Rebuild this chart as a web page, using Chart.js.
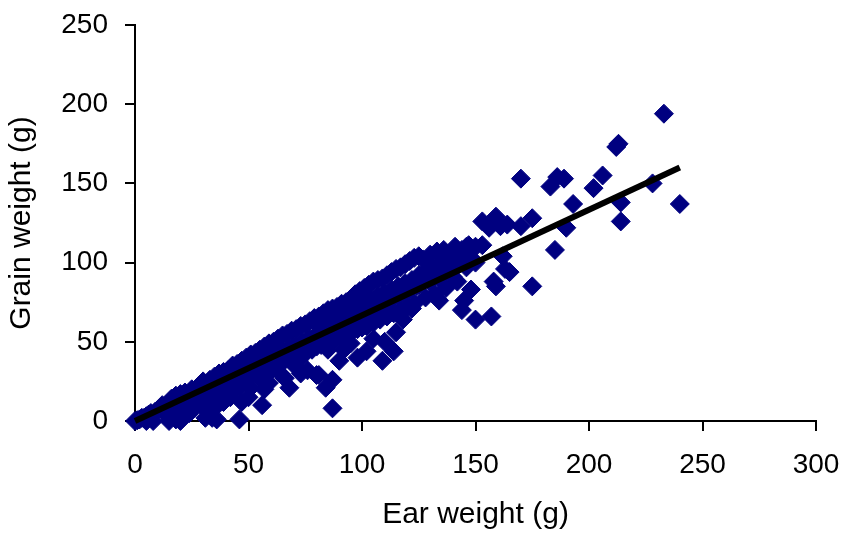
<!DOCTYPE html>
<html>
<head>
<meta charset="utf-8">
<script src="https://cdn.jsdelivr.net/npm/chart.js@4/dist/chart.umd.min.js"></script>
<style>
  body { margin: 0; background: #fff; }
  #wrap { width: 841px; height: 534px; }
</style>
</head>
<body>
<div id="wrap"><canvas id="chart"></canvas></div>
<script>
// Ear weight (x) and grain weight (y), grouped by x range
const earWeight = [
  0, 1, 2, 3, 4, 5, 6, 7, 8, 9, 10, 11, 12, 13, 14, 15, 16, 17, 18, 19, 20,
  5, 8, 15, 18, 20, 14, 17, 19, 21, 24, 20, 12, 16, 18, 20,
  21, 22, 23, 24, 25, 26, 27, 28, 29, 30, 31, 32, 33, 34, 35, 36, 37, 38, 39, 40,
  22, 25, 28, 30, 33, 35, 37, 39, 24, 27, 30, 32, 35, 38, 40,
  31, 34, 34, 39, 36, 42, 26, 29, 35, 40,
  41, 42, 43, 44, 45, 46, 47, 48, 49, 50, 51, 52, 53, 54, 55, 56, 57, 58, 59, 60,
  41, 43, 45, 47, 49, 51, 53, 55, 57, 59, 42, 45, 48, 50, 52, 55, 58, 60,
  46, 46, 47, 50, 51, 56, 55, 59, 57, 39, 43,
  61, 62, 63, 64, 65, 66, 67, 68, 69, 70, 71, 72, 73, 74, 75, 76, 77, 78, 79, 80,
  61, 63, 65, 67, 69, 71, 73, 75, 77, 79, 62, 65, 68, 70, 73, 76, 78, 80,
  68, 71, 76, 64, 66, 73, 80, 84, 87, 85, 72,
  81, 82, 83, 84, 85, 86, 87, 88, 89, 90, 91, 92, 93, 94, 95, 96, 97, 98, 99, 100,
  81, 83, 85, 87, 89, 91, 93, 95, 97, 99, 82, 85, 88, 90, 93, 96, 98, 100,
  87, 81, 95, 98, 92, 90,
  101, 102, 104, 105, 106, 108, 109, 110, 112, 113, 114, 116, 117, 118, 120, 121, 122, 124, 125,
  101, 103, 105, 107, 109, 111, 113, 115, 117, 119, 121, 123, 125, 102, 105, 108, 111, 114, 117, 120, 123,
  102, 109, 114, 110, 115, 122, 105, 118,
  80, 83, 86, 89, 92, 95, 98, 101, 104, 107, 110, 113, 116, 119, 122, 125, 128, 131, 134, 137, 140, 143, 146,
  126, 128, 130, 132, 134, 136, 138, 140, 142, 144, 146, 148, 150,
  127, 130, 133, 136, 139, 141, 144, 147, 150,
  128, 132, 134, 137, 140, 144, 148, 150, 145, 142, 157,
  153, 159, 161, 164, 156, 146, 153, 162, 165, 163, 158, 159, 175, 170, 175, 190, 185,
  170, 183, 186, 189, 206, 202, 193, 212, 213, 233, 214, 214, 228, 240
];
const grainWeight = [
  0, 0.5, 1, 2, 2, 3, 4, 5, 4, 6, 7, 8, 7, 9, 10, 11, 12, 11, 13, 12, 14,
  0, 0, 0, 1, 0, 4, 6, 7, 2, 5, 9, 10, 14, 16, 17,
  15, 14, 16, 17, 16, 18, 19, 18, 20, 21, 20, 22, 23, 22, 24, 25, 24, 26, 27, 26,
  18, 20, 22, 25, 26, 28, 30, 31, 12, 13, 15, 16, 18, 20, 19,
  2, 2, 12, 12, 1, 15, 9, 10, 8, 18,
  28, 27, 29, 30, 29, 31, 32, 31, 33, 34, 33, 35, 36, 35, 37, 38, 37, 39, 40, 39,
  32, 35, 36, 38, 40, 42, 43, 45, 47, 49, 22, 24, 25, 28, 29, 30, 33, 32,
  1, 21, 12, 15, 21, 10, 27, 24, 20, 18, 19,
  41, 42, 41, 43, 44, 43, 45, 46, 45, 47, 48, 47, 49, 50, 49, 51, 52, 51, 53, 54,
  50, 52, 54, 55, 57, 58, 60, 61, 63, 65, 36, 37, 39, 40, 42, 44, 45, 47,
  21, 34, 32, 30, 27, 30, 29, 21, 26, 45, 38,
  55, 54, 56, 57, 56, 58, 59, 58, 60, 61, 60, 62, 63, 62, 64, 65, 64, 66, 67, 66,
  66, 68, 70, 71, 72, 74, 75, 77, 80, 82, 48, 50, 51, 53, 55, 57, 58, 59,
  8, 29, 49, 40, 45, 38,
  68, 69, 70, 71, 72, 73, 74, 75, 76, 77, 78, 79, 80, 81, 82, 83, 84, 85, 86,
  84, 86, 88, 89, 90, 92, 94, 96, 97, 99, 101, 103, 104, 60, 62, 64, 66, 68, 70, 72, 74,
  44, 38, 44, 50, 56, 71, 52, 64,
  61, 63, 65, 67, 68, 70, 72, 75, 77, 79, 81, 83, 85, 87, 89, 92, 95, 97, 99, 101, 103, 104, 106,
  87, 90, 88, 92, 90, 94, 95, 96, 98, 100, 97, 103, 100,
  102, 105, 107, 108, 106, 110, 108, 111, 110,
  78, 80, 76, 84, 91, 70, 83, 64, 76, 88, 66,
  126, 129, 123, 124, 122, 110, 111, 104, 94, 96, 88, 85, 85, 123, 128, 122, 108,
  153, 148, 154, 153, 155, 147, 137, 173, 175, 194, 138, 126, 150, 137
];

// Fitted line end points
const fitX = [0, 240];
const fitY = [0, 160];

const xTicks = [0, 50, 100, 150, 200, 250, 300];
const yTicks = [0, 50, 100, 150, 200, 250];

const points = earWeight.map((x, i) => ({ x: x, y: grainWeight[i] }));
const fitLine = fitX.map((x, i) => ({ x: x, y: fitY[i] }));

const tickFont = { family: 'Liberation Sans', size: 28 };
const titleFont = { family: 'Liberation Sans', size: 30 };

new Chart(document.getElementById('chart'), {
  type: 'scatter',
  data: {
    datasets: [
      {
        data: fitLine,
        showLine: true,
        borderColor: '#000',
        borderWidth: 6,
        pointRadius: 0,
        order: 0,
        clip: false
      },
      {
        data: points,
        pointStyle: 'rectRot',
        pointRadius: 9.5,
        backgroundColor: '#000080',
        borderColor: '#000080',
        borderWidth: 1,
        order: 1,
        clip: false
      }
    ]
  },
  options: {
    responsive: true,
    maintainAspectRatio: false,
    animation: false,
    layout: { padding: { top: 25, right: 25, left: 0, bottom: 0 } },
    plugins: { legend: { display: false }, tooltip: { enabled: false } },
    scales: {
      x: {
        type: 'linear',
        min: 0,
        max: 300,
        afterFit: s => { s.height = 113; s.paddingLeft = 0; s.paddingRight = 0; },
        afterBuildTicks: s => { s.ticks = xTicks.map(v => ({ value: v })); },
        grid: { drawOnChartArea: false, tickLength: 10, color: '#000', lineWidth: 2 },
        border: { color: '#000', width: 2 },
        ticks: { color: '#000', font: tickFont, padding: 17, maxRotation: 0 },
        title: { display: true, text: 'Ear weight (g)', color: '#000', font: titleFont, padding: { top: 4, bottom: 1 } }
      },
      y: {
        type: 'linear',
        min: 0,
        max: 250,
        afterFit: s => { s.width = 135; s.paddingTop = 0; s.paddingBottom = 0; },
        afterBuildTicks: s => { s.ticks = yTicks.map(v => ({ value: v })); },
        grid: { drawOnChartArea: false, tickLength: 10, color: '#000', lineWidth: 2 },
        border: { color: '#000', width: 2 },
        ticks: { color: '#000', font: tickFont, padding: 17 },
        title: { display: true, text: 'Grain weight (g)', color: '#000', font: titleFont, padding: { top: 4, bottom: 1 } }
      }
    }
  }
});
</script>
</body>
</html>
